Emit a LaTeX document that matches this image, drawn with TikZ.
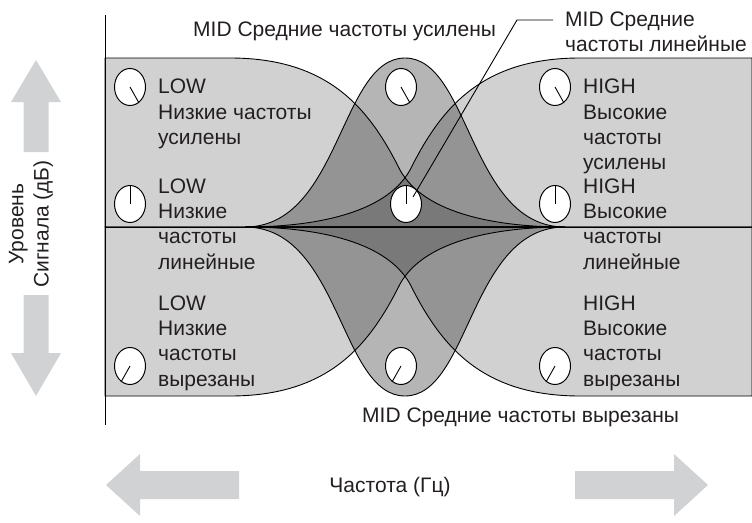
\documentclass[tikz,border=0pt]{standalone}
\usepackage{fontspec}
\setmainfont{Liberation Sans}
\usetikzlibrary{shapes.geometric}
\newcommand\pLowBoost{(105,58) -- (230,58) .. controls (330,58) and (370,110) .. (400,170) .. controls (425,215) and (500,227) .. (565,227) -- (105,227) -- cycle}
\newcommand\pHighBoost{(752,58) -- (580,58) .. controls (480,58) and (440,110) .. (410,170) .. controls (385,215) and (310,227) .. (245,227) -- (752,227) -- cycle}
\newcommand\pLowCut{(105,396) -- (230,396) .. controls (330,396) and (370,344) .. (400,284) .. controls (425,239) and (500,227) .. (565,227) -- (105,227) -- cycle}
\newcommand\pHighCut{(752,396) -- (580,396) .. controls (480,396) and (440,344) .. (410,284) .. controls (385,239) and (310,227) .. (245,227) -- (752,227) -- cycle}
\newcommand\pMidBoost{(245,227) .. controls (340,227) and (340,58) .. (405,58) .. controls (470,58) and (470,227) .. (565,227) -- cycle}
\newcommand\pMidCut{(245,227) .. controls (340,227) and (340,396) .. (405,396) .. controls (470,396) and (470,227) .. (565,227) -- cycle}
\definecolor{arrowgray}{HTML}{D1D2D4}
\definecolor{txt}{HTML}{231F20}
\begin{document}
\begin{tikzpicture}[x=1pt,y=-1pt,
  shelf/.style={fill=black, fill opacity=0.18},
  bell/.style={fill=black, fill opacity=0.29},
  outline/.style={draw=black, line width=0.9pt},
  knob/.style={draw=black, fill=white, line width=1pt, ellipse, minimum width=31pt, minimum height=37pt, inner sep=0pt},
  pointer/.style={draw=black, line width=0.9pt},
  lbl/.style={font=\fontsize{21}{25.3}\selectfont, align=left, inner sep=0pt, text=txt},
  bigarrow/.style={fill=arrowgray, draw=none}
]
\useasboundingbox (0,0) rectangle (752,522);

% fills
\fill[shelf] \pLowBoost;
\fill[shelf] \pHighBoost;
\fill[shelf] \pLowCut;
\fill[shelf] \pHighCut;
\fill[bell] \pMidBoost;
\fill[bell] \pMidCut;
% outlines
\draw[outline] \pLowBoost;
\draw[outline] \pHighBoost;
\draw[outline] \pLowCut;
\draw[outline] \pHighCut;
\draw[outline] \pMidBoost;
\draw[outline] \pMidCut;

% axes
\coordinate (ytop) at (105,15);
\coordinate (ybot) at (105,425);
\coordinate (bl) at (105,227);
\coordinate (br) at (752,227);
\draw[line width=1pt] (ytop) -- (ybot);
\draw[line width=0.9pt] (bl) -- (br);

% knobs
\node[knob] (klb) at (130,87) {};
\node[knob] (klf) at (130,204) {};
\node[knob] (klc) at (130,366) {};
\node[knob] (kmb) at (401,87) {};
\node[knob] (kmf) at (406,204) {};
\node[knob] (kmc) at (401,366) {};
\node[knob] (khb) at (555,87) {};
\node[knob] (khf) at (555,204) {};
\node[knob] (khc) at (555,366) {};
\foreach \k in {klb,kmb,khb} \draw[pointer] (\k.center) -- ++(9,16);
\foreach \k in {klf,kmf,khf} \draw[pointer] (\k.center) -- (\k.north);
\foreach \k in {klc,kmc,khc} \draw[pointer] (\k.center) -- ++(-9,16);

% labels
\node[lbl, anchor=north west] (tlb) at (158,79) {LOW\\Низкие частоты\\усилены};
\node[lbl, anchor=north west] (tlf) at (158,178.5) {LOW\\Низкие\\частоты\\линейные};
\node[lbl, anchor=north west] (tlc) at (158,295.5) {LOW\\Низкие\\частоты\\вырезаны};
\node[lbl, anchor=north west] (thb) at (583,79) {HIGH\\Высокие\\частоты\\усилены};
\node[lbl, anchor=north west] (thf) at (583,178.5) {HIGH\\Высокие\\частоты\\линейные};
\node[lbl, anchor=north west] (thc) at (583,295.5) {HIGH\\Высокие\\частоты\\вырезаны};
\node[lbl, anchor=base west] (tmb) at (193,36) {MID Средние частоты усилены};
\node[lbl, anchor=north west] (tmf) at (565,11.5) {MID Средние\\частоты линейные};
\node[lbl, anchor=base west] (tmc) at (362,422) {MID Средние частоты вырезаны};

% leader
\coordinate (lead1) at (413,197);
\coordinate (lead2) at (517,20);
\coordinate (lead3) at (553,20);
\draw[line width=0.9pt] (lead1) -- (lead2) -- (lead3);

% axis labels
\node[lbl, align=center, rotate=90] (ylab) at (31,224) {Уровень\\Сигнала (дБ)};
\node[lbl, anchor=base] (xlab) at (390,492) {Частота (Гц)};

% big arrows
\fill[bigarrow] (36,60) -- (61,102) -- (48.5,102) -- (48.5,152) -- (23.5,152) -- (23.5,102) -- (11,102) -- cycle;
\fill[bigarrow] (36,396) -- (61,353) -- (48.5,353) -- (48.5,295) -- (23.5,295) -- (23.5,353) -- (11,353) -- cycle;
\fill[bigarrow] (106,485) -- (140,454) -- (140,471) -- (239,471) -- (239,499) -- (140,499) -- (140,516) -- cycle;
\fill[bigarrow] (708,485) -- (674,454) -- (674,471) -- (575,471) -- (575,499) -- (674,499) -- (674,516) -- cycle;
\end{tikzpicture}
\end{document}
